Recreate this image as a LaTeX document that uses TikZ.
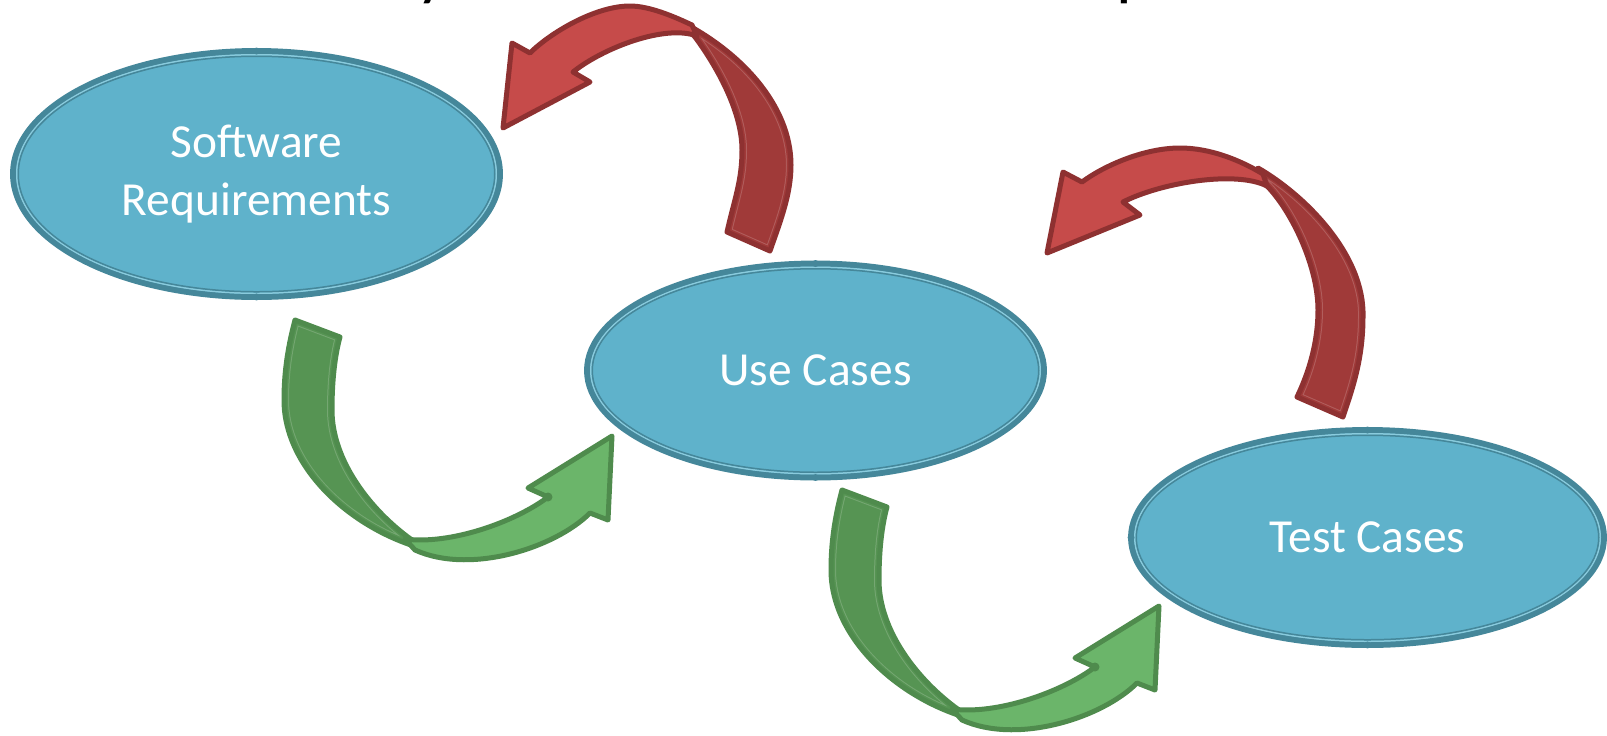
\documentclass[tikz,border=0pt]{standalone}
\usepackage{fontspec}
\setmainfont{Carlito}
\usetikzlibrary{shapes.geometric}
\definecolor{ovalfill}{HTML}{5FB2CB}
\definecolor{ovaledge}{HTML}{45879A}
\definecolor{ovalline}{HTML}{8ACBDD}
\definecolor{redfront}{HTML}{C64B4A}
\definecolor{redback}{HTML}{A03A39}
\definecolor{redline}{HTML}{8E3131}
\definecolor{greenfront}{HTML}{6BB56A}
\definecolor{greenback}{HTML}{569453}
\definecolor{greenline}{HTML}{4F8B4D}
\tikzset{
  oval/.style={ellipse, fill=ovalfill, draw=ovaledge, line width=0.12cm, inner sep=0pt,
    outer sep=0pt, text=white, align=center, font=\fontsize{27}{33}\selectfont},
  ringlight/.style={draw=ovalline, line width=0.03cm},
  ringdark/.style={draw=ovaledge, line width=0.03cm},
  rim/.style={line width=0.1cm, line join=round},
  frontred/.style={fill=redfront, draw=redline, rim},
  frontgreen/.style={fill=greenfront, draw=greenline, rim}
}
% back side of a ribbon arrow: #1 path, #2 fill, #3 rim colour
\newcommand\ribbonback[3]{%
  \fill[#2] #1;
  \begin{scope}
    \clip #1;
    \draw[line width=0.2cm, #2!82!white] #1;
    \draw[line width=0.16cm, #2] #1;
  \end{scope}
  \draw[#3, rim] #1;}
\begin{document}
\begin{tikzpicture}[x=0.02cm, y=-0.02cm]
  \useasboundingbox (0,0) rectangle (1607,735);
  \clip (0,0) rectangle (1607,735);
  % cut-off title
  \node[anchor=base, inner sep=0pt, font=\fontsize{40}{40}\selectfont] (ty) at (432,-8) {y};
  \node[anchor=base, inner sep=0pt, font=\fontsize{40}{40}\selectfont] (tp) at (1135,-8) {p};
  % the three ovals
  \node[oval, minimum width=9.74cm, minimum height=4.92cm] (sr) at (256.5,174) {Software\\Requirements};
  \node[oval, minimum width=9.14cm, minimum height=4.28cm] (uc) at (815.5,370.5) {Use Cases};
  \node[oval, minimum width=9.46cm, minimum height=4.30cm] (tc) at (1367.5,537.5) {Test Cases};
  \foreach \n/\a/\b in {sr/243.5/123, uc/228.5/107, tc/236.5/107.5} {
    \draw[ringlight] (\n.center) ellipse [x radius={(\a-3.75)*0.02cm}, y radius={(\b-3.75)*0.02cm}];
    \draw[ringdark] (\n.center) ellipse [x radius={(\a-5.25)*0.02cm}, y radius={(\b-5.25)*0.02cm}];
  }
  \foreach \p in {sr.north, sr.south, uc.north, uc.south, tc.north, tc.south, tc.west}
    \fill[ovaledge] (\p) circle [radius=0.07cm];
  % red arrow, use cases -> requirements
  \ribbonback{(680,21) .. controls (740,51) and (791,105) .. (791,165)
    .. controls (791,195) and (780,222) .. (770,251) -- (727,232)
    .. controls (735,197) and (742,180) .. (742,150)
    .. controls (742,110) and (715,64) .. (695,37) -- cycle}{redback}{redline}
  \filldraw[frontred] (692,25) .. controls (675,17) and (650,6) .. (630,6)
    .. controls (595,6) and (550,33) .. (530,53)
    -- (512,43) -- (503,128) -- (590,82) -- (573,72)
    .. controls (603,48) and (665,24) .. (697,36) -- cycle;
  % red arrow, test cases -> use cases
  \ribbonback{(1258,168) .. controls (1305,195) and (1365,255) .. (1363,317)
    .. controls (1363,360) and (1352,390) .. (1343,417) -- (1297,397)
    .. controls (1310,370) and (1318,340) .. (1318,310)
    .. controls (1318,265) and (1290,208) .. (1265,184) -- cycle}{redback}{redline}
  \filldraw[frontred] (1263,174) .. controls (1240,160) and (1210,148) .. (1180,148)
    .. controls (1145,148) and (1105,165) .. (1082,182)
    -- (1063,172) -- (1047,253) -- (1140,215) -- (1123,202)
    .. controls (1160,183) and (1235,170) .. (1267,186) -- cycle;
  % green arrows, requirements -> use cases -> test cases
  \foreach \dx/\dy in {0/0, 547/170} {
    \begin{scope}[shift={(\dx,\dy)}]
      \ribbonback{(295,320) .. controls (287,350) and (284,375) .. (284,400)
        .. controls (284,470) and (355,532) .. (428,550) -- (412,540)
        .. controls (370,510) and (332,460) .. (332,410)
        .. controls (332,380) and (335,355) .. (340,337) -- cycle}{greenback}{greenline}
      \filldraw[frontgreen] (405,539) .. controls (450,545) and (515,522) .. (548,497)
        -- (528,488) -- (612,436) -- (608,520) -- (590,513)
        .. controls (555,548) and (470,575) .. (415,550) -- cycle;
      \fill[greenline] (548,497) circle [radius=0.09cm];
    \end{scope}
  }
\end{tikzpicture}
\end{document}
